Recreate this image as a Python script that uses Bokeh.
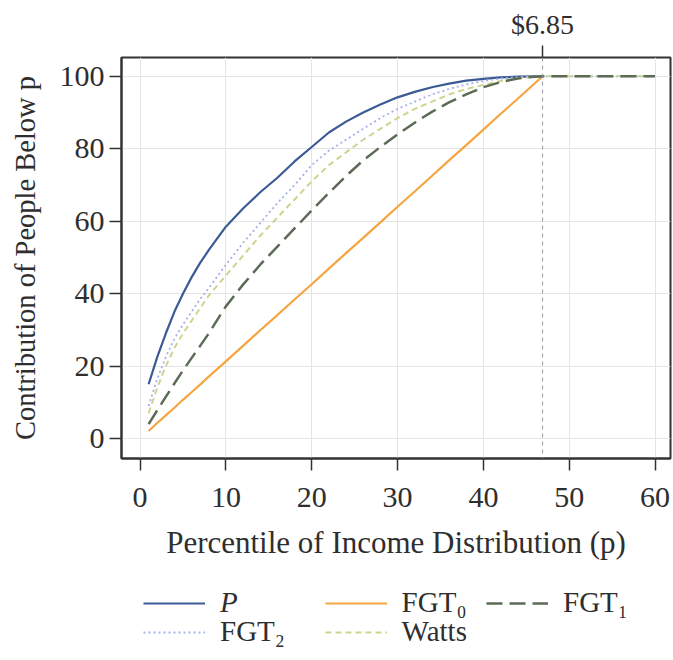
from bokeh.plotting import figure
from bokeh.layouts import column
from bokeh.models import (Legend, LegendItem, LinearAxis, FixedTicker, Span,
                          Range1d, SingleIntervalTicker)
from bokeh.embed import file_html
from bokeh.resources import INLINE

# Percentile of the income distribution (p); the cut-off at the $6.85 line sits near 46.9
pct = [1, 2, 3, 4, 5, 6, 7, 8, 10, 12, 14, 16, 18, 20, 22, 24, 26, 28, 30,
       32, 34, 36, 38, 40, 42, 44, 46, 46.9]
cutoff = 46.9
cutoff_label = "$6.85"
pct_end = 60

# Cumulative contribution (%) of people below p to each measure
share_p = [15, 22.5, 29, 35, 40, 44.5, 48.5, 52, 58.5, 63.5, 68, 72, 76.5, 80.5,
           84.5, 87.5, 90, 92.2, 94.2, 95.7, 97, 98, 98.8, 99.3, 99.7, 99.9, 100, 100]
fgt0 = [2.1, 4.3, 6.4, 8.5, 10.7, 12.8, 14.9, 17.1, 21.3, 25.6, 29.9, 34.1, 38.4,
        42.6, 46.9, 51.2, 55.4, 59.7, 64.0, 68.2, 72.5, 76.8, 81.0, 85.3, 89.6,
        93.8, 98.1, 100]
fgt1 = [4, 7.8, 11.5, 15.2, 18.8, 22.2, 25.6, 29, 36.5, 42.5, 48, 53, 58, 63,
        67.8, 72.5, 76.8, 80.5, 84, 87.2, 90.2, 92.8, 95, 97, 98.4, 99.4, 99.9, 100]
fgt2 = [9, 16.5, 22.5, 27.5, 31.5, 35, 38.5, 41.5, 48, 54, 59.5, 65, 70, 75.5,
        79.5, 82.5, 85.5, 88.5, 91, 93, 95, 96.5, 97.8, 98.7, 99.4, 99.8, 100, 100]
watts = [7, 14, 20, 25, 29, 32.5, 36, 39.5, 45, 50.5, 56, 61, 66, 71, 75.5, 79,
         82.5, 85.5, 88.5, 91, 93, 95, 96.5, 97.6, 98.7, 99.5, 99.9, 100]

x_ticks_step = 10
y_ticks_step = 20

SERIF = "Liberation Serif"
INK = "#2e2e2e"
NAN = float("nan")

# Line styles shared by the chart and its key
styles = {
    "P":     dict(line_color="#3c5a96", line_width=2.2),
    "FGT0":  dict(line_color="#f5a540", line_width=2.2),
    "FGT1":  dict(line_color="#5c6b55", line_width=2.5, line_dash="16 7"),
    "FGT2":  dict(line_color="#a3b1ea", line_width=1.8, line_dash="2 3"),
    "Watts": dict(line_color="#cfd38f", line_width=2, line_dash="6 4"),
}

p = figure(width=673, height=580,
           x_range=Range1d(-2.16, 61.8), y_range=Range1d(-5.5, 105.2),
           output_backend="svg", toolbar_location=None,
           min_border_left=121, min_border_right=3,
           min_border_top=57, min_border_bottom=122)

p.outline_line_color = "#333333"
p.outline_line_width = 2
p.background_fill_color = "white"
p.border_fill_color = "white"

p.xaxis.ticker = SingleIntervalTicker(interval=x_ticks_step)
p.yaxis.ticker = SingleIntervalTicker(interval=y_ticks_step)
p.xaxis.axis_label = "Percentile of Income Distribution (p)"
p.yaxis.axis_label = "Contribution of People Below p"

for ax in (p.xaxis[0], p.yaxis[0]):
    ax.major_tick_out = 12
    ax.major_tick_in = 0
    ax.minor_tick_out = 0
    ax.minor_tick_in = 0
    ax.major_tick_line_color = "#333333"
    ax.major_tick_line_width = 1.5
    ax.axis_line_color = "#333333"
    ax.axis_line_width = 2
    ax.major_label_text_font = SERIF
    ax.major_label_text_font_size = "30px"
    ax.major_label_text_color = INK
    ax.axis_label_text_font = SERIF
    ax.axis_label_text_font_style = "normal"
    ax.axis_label_text_color = INK

p.xaxis.axis_label_text_font_size = "31px"
p.yaxis.axis_label_text_font_size = "28.5px"
p.xaxis.major_label_standoff = 17
p.xaxis.axis_label_standoff = 15
p.yaxis.major_label_standoff = 5
p.yaxis.axis_label_standoff = 16

p.xgrid.grid_line_color = "#e4e4e4"
p.ygrid.grid_line_color = "#e4e4e4"

# Poverty-line marker on a top axis
top = LinearAxis(ticker=FixedTicker(ticks=[cutoff]),
                 major_label_overrides={cutoff: cutoff_label})
top.axis_line_color = None
top.major_tick_out = 12
top.major_tick_in = 0
top.minor_tick_out = 0
top.major_tick_line_color = "#333333"
top.major_tick_line_width = 1.5
top.major_label_text_font = SERIF
top.major_label_text_font_size = "28px"
top.major_label_text_color = INK
top.major_label_standoff = 6
p.add_layout(top, "above")

p.add_layout(Span(location=cutoff, dimension="height", line_color="#9a9a9a",
                  line_dash="4 4", line_width=1))

ext_x = pct + [pct_end]

p.line(pct, fgt0, **styles["FGT0"])
p.line(pct, share_p, **styles["P"])
p.line(ext_x, fgt2 + [100], **styles["FGT2"])
p.line(ext_x, watts + [100], **styles["Watts"])
p.line(ext_x, fgt1 + [100], **styles["FGT1"])

# Key panel underneath the chart (its frame lines up with the chart's frame)
key = figure(width=673, height=80, output_backend="svg", toolbar_location=None,
             x_axis_location=None, y_axis_location=None,
             x_range=Range1d(0, 1), y_range=Range1d(0, 1),
             min_border_left=121, min_border_right=3,
             min_border_top=0, min_border_bottom=0)
key.outline_line_color = None
key.xgrid.visible = False
key.ygrid.visible = False
key.border_fill_color = "white"


def add_key(label, name, loc, italic=False):
    r = key.line([NAN, NAN], [NAN, NAN], **styles[name])
    leg = Legend(items=[LegendItem(label=label, renderers=[r])],
                 location=loc,
                 label_text_font=SERIF, label_text_font_size="29px",
                 label_text_color=INK,
                 label_text_font_style="italic" if italic else "normal",
                 glyph_width=62, glyph_height=24, label_height=24,
                 label_standoff=15, padding=0, margin=0, spacing=0,
                 border_line_color=None, background_fill_alpha=0)
    key.add_layout(leg, "center")


row1, row2 = 41, 12
add_key("P", "P", (22, row1), italic=True)
add_key("FGT\u2080", "FGT0", (203.6, row1))
add_key("FGT\u2081", "FGT1", (365, row1))
add_key("FGT\u2082", "FGT2", (22, row2))
add_key("Watts", "Watts", (203.6, row2))

layout = column(p, key, spacing=0)
open("out.html", "w").write(file_html(layout, INLINE))
